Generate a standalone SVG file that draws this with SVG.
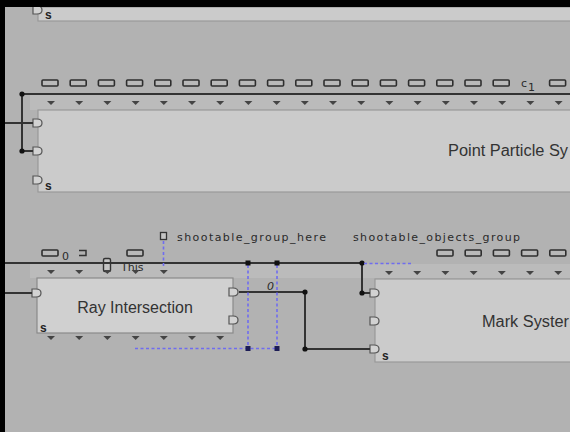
<svg xmlns="http://www.w3.org/2000/svg" xmlns:xlink="http://www.w3.org/1999/xlink" width="570" height="432" viewBox="0 0 570 432">
<style>
.bg{fill:#b2b2b2}
.band{fill:#bbbbbb}
.node{fill:#cbcbcb;stroke:#999999;stroke-width:1.2}
.lbl{font-family:"Liberation Sans",Arial,sans-serif;font-size:16px;fill:#333333}
.small{font-family:"DejaVu Sans",sans-serif;font-size:11px;fill:#2a2a2a}
.s{font-family:"Liberation Sans",Arial,sans-serif;font-size:12px;font-weight:bold;fill:#222222}
.wire{fill:none;stroke:#333333;stroke-width:2}
.blue{fill:none;stroke:#6f6cf0;stroke-width:1.6;stroke-dasharray:3 2.5}
.dot{fill:#111111}
.nav{fill:#1c1c55}
</style>
<defs>
<path id="inport" d="M-4,-4 h4 q5,0 5,4 q0,4 -5,4 h-4 z" fill="#d2d2d2" stroke="#555555" stroke-width="1.2"/>
<path id="tri" d="M-4,0 h8 l-4,4 z" fill="#444444"/>
<rect id="pad" x="0" y="0" width="16" height="6" rx="1" fill="#b9b9b9" stroke="#2e2e2e" stroke-width="1.6"/>
</defs>
<rect class="bg" x="0" y="0" width="570" height="432"/>

<g id="node-top">
<rect class="node" x="38" y="7" width="540" height="14"/>
<use xlink:href="#inport" x="37" y="10"/>
<text class="s" x="45" y="19">s</text>
</g>

<g id="node-point-particle">
<rect class="band" x="30" y="95" width="540" height="15"/>
<g>
<use xlink:href="#pad" x="42" y="80"/><use xlink:href="#pad" x="70.2" y="80"/><use xlink:href="#pad" x="98.4" y="80"/><use xlink:href="#pad" x="126.6" y="80"/><use xlink:href="#pad" x="154.8" y="80"/><use xlink:href="#pad" x="183" y="80"/><use xlink:href="#pad" x="211.2" y="80"/><use xlink:href="#pad" x="239.4" y="80"/><use xlink:href="#pad" x="267.6" y="80"/><use xlink:href="#pad" x="295.8" y="80"/><use xlink:href="#pad" x="324" y="80"/><use xlink:href="#pad" x="352.2" y="80"/><use xlink:href="#pad" x="380.4" y="80"/><use xlink:href="#pad" x="408.6" y="80"/><use xlink:href="#pad" x="436.8" y="80"/><use xlink:href="#pad" x="465" y="80"/><use xlink:href="#pad" x="493.2" y="80"/><use xlink:href="#pad" x="549.6" y="80"/>
</g>
<text class="small" x="521" y="87" font-size="10">c</text><text class="small" x="528" y="91" font-size="9">1</text>
<g>
<use xlink:href="#tri" x="51" y="101"/><use xlink:href="#tri" x="79.2" y="101"/><use xlink:href="#tri" x="107.4" y="101"/><use xlink:href="#tri" x="135.6" y="101"/><use xlink:href="#tri" x="163.8" y="101"/><use xlink:href="#tri" x="192" y="101"/><use xlink:href="#tri" x="220.2" y="101"/><use xlink:href="#tri" x="248.4" y="101"/><use xlink:href="#tri" x="276.6" y="101"/><use xlink:href="#tri" x="304.8" y="101"/><use xlink:href="#tri" x="333" y="101"/><use xlink:href="#tri" x="361.2" y="101"/><use xlink:href="#tri" x="389.4" y="101"/><use xlink:href="#tri" x="417.6" y="101"/><use xlink:href="#tri" x="445.8" y="101"/><use xlink:href="#tri" x="474" y="101"/><use xlink:href="#tri" x="502.2" y="101"/><use xlink:href="#tri" x="530.4" y="101"/><use xlink:href="#tri" x="558.6" y="101"/>
</g>
<rect class="node" x="38" y="110" width="540" height="82"/>
<use xlink:href="#inport" x="37" y="123"/>
<use xlink:href="#inport" x="37" y="151"/>
<use xlink:href="#inport" x="37" y="180"/>
<text class="s" x="45" y="190">s</text>
<text class="lbl" x="448" y="156" textLength="120" lengthAdjust="spacingAndGlyphs">Point Particle Sy</text>
</g>

<g id="label-shootable-group-here">
<rect x="160.5" y="232.5" width="6" height="7" fill="#c4c4c4" stroke="#333333" stroke-width="1.3"/>
<text class="small" x="177" y="241" textLength="149" lengthAdjust="spacing">shootable_group_here</text>
</g>
<g id="label-shootable-objects-group">
<text class="small" x="353" y="241" textLength="167" lengthAdjust="spacing">shootable_objects_group</text>
</g>

<rect class="band" x="30" y="264" width="540" height="14"/>

<g id="node-ray-intersection">
<use xlink:href="#pad" x="42" y="250"/>
<text class="small" x="62" y="260" font-size="10">0</text>
<path d="M79,250.5 h7 v5 h-7" fill="none" stroke="#333333" stroke-width="1.5"/>
<use xlink:href="#pad" x="127" y="250"/>
<rect x="103.5" y="258.5" width="7" height="13" rx="1.5" fill="#c4c4c4" stroke="#333333" stroke-width="1.4"/>
<text class="small" x="121" y="271" font-size="11" fill="#444444">This</text>
<g>
<use xlink:href="#tri" x="51" y="270"/><use xlink:href="#tri" x="79.2" y="270"/><use xlink:href="#tri" x="107.4" y="270"/><use xlink:href="#tri" x="135.6" y="270"/><use xlink:href="#tri" x="163.8" y="270"/>
</g>
<rect class="node" x="37" y="278" width="196" height="55" style="fill:#d0d0d0;stroke:#8a8a8a"/>
<use xlink:href="#inport" x="36" y="293"/>
<use xlink:href="#inport" x="233" y="292"/>
<use xlink:href="#inport" x="233" y="320"/>
<text class="s" x="40" y="332">s</text>
<text class="lbl" x="135" y="313" text-anchor="middle">Ray Intersection</text>
<g>
<use xlink:href="#tri" x="51" y="336"/><use xlink:href="#tri" x="79.2" y="336"/><use xlink:href="#tri" x="107.4" y="336"/><use xlink:href="#tri" x="135.6" y="336"/><use xlink:href="#tri" x="163.8" y="336"/><use xlink:href="#tri" x="192" y="336"/><use xlink:href="#tri" x="220.2" y="336"/>
</g>
</g>

<g id="node-mark-system">
<g>
<use xlink:href="#pad" x="437" y="250"/><use xlink:href="#pad" x="465.2" y="250"/><use xlink:href="#pad" x="493.4" y="250"/><use xlink:href="#pad" x="521.6" y="250"/><use xlink:href="#pad" x="549.8" y="250"/>
</g>
<g>
<use xlink:href="#tri" x="389" y="271"/><use xlink:href="#tri" x="417.2" y="271"/><use xlink:href="#tri" x="445.4" y="271"/><use xlink:href="#tri" x="473.6" y="271"/><use xlink:href="#tri" x="501.8" y="271"/><use xlink:href="#tri" x="530" y="271"/><use xlink:href="#tri" x="558.2" y="271"/>
</g>
<rect class="node" x="375" y="279" width="200" height="83"/>
<use xlink:href="#inport" x="374" y="293"/>
<use xlink:href="#inport" x="374" y="321"/>
<use xlink:href="#inport" x="374" y="349"/>
<text class="s" x="382" y="360">s</text>
<text class="lbl" x="482" y="327" textLength="87" lengthAdjust="spacingAndGlyphs">Mark Syster</text>
</g>

<g id="connectors">
<line class="wire" x1="22" y1="94" x2="570" y2="94"/>
<polyline class="wire" points="22,94 22,151 33,151"/>
<line class="wire" x1="5" y1="123" x2="33" y2="123"/>
<circle class="dot" cx="22" cy="94" r="2.6"/>
<circle class="dot" cx="22" cy="151" r="2.6"/>

<line class="wire" x1="5" y1="263" x2="362" y2="263"/>
<line class="wire" x1="5" y1="293" x2="32" y2="293"/>
<polyline class="wire" points="362,263 362,293 370,293"/>
<circle class="dot" cx="362" cy="263" r="2.6"/>
<circle class="dot" cx="362" cy="293" r="2.6"/>
<polyline class="wire" points="239,292 305,292 305,349 370,349"/>
<circle class="dot" cx="305" cy="292" r="2.6"/>
<circle class="dot" cx="305" cy="349" r="2.6"/>
<text class="small" x="267" y="290" font-size="11" font-style="italic">0</text>

<line class="blue" x1="163.5" y1="241" x2="163.5" y2="268"/>
<line class="blue" x1="248" y1="265" x2="248" y2="347"/>
<line class="blue" x1="277" y1="265" x2="277" y2="347"/>
<line class="blue" x1="135" y1="348.5" x2="277" y2="348.5"/>
<line class="blue" x1="364" y1="263.5" x2="413" y2="263.5"/>
<rect class="dot" x="245.5" y="260.5" width="5" height="5"/>
<rect class="dot" x="274.5" y="260.5" width="5" height="5"/>
<rect class="nav" x="245.5" y="346" width="5" height="5"/>
<rect class="nav" x="274.5" y="346" width="5" height="5"/>
</g>

<g id="frame">
<rect x="0" y="0" width="570" height="7" fill="#000000"/>
<rect x="0" y="0" width="5" height="432" fill="#000000"/>
</g>
</svg>
